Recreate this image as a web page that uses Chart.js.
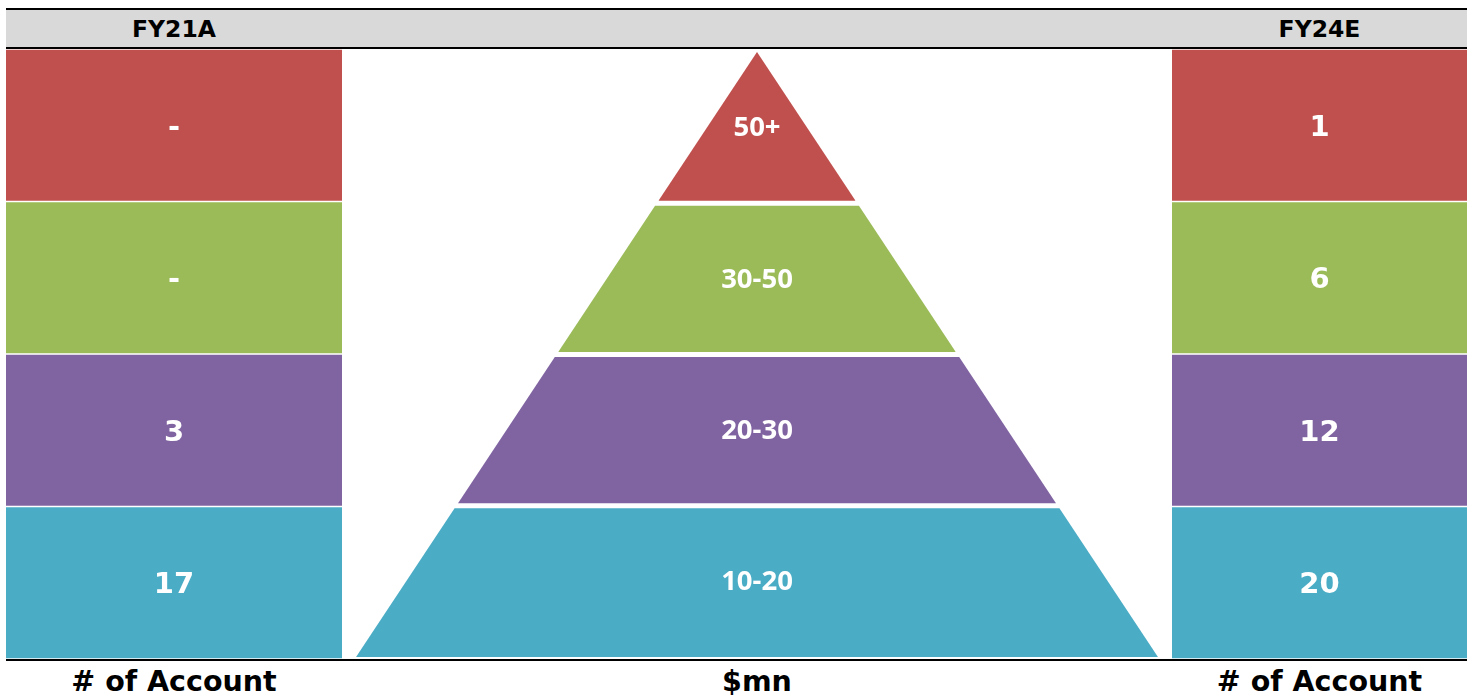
<!DOCTYPE html>
<html><head><meta charset="utf-8">
<script src="https://cdn.jsdelivr.net/npm/chart.js@4"></script>
<style>
html,body{margin:0;padding:0;background:#fff;}
#wrap{position:relative;width:1473px;height:696px;overflow:hidden;font-family:"DejaVu Sans",Verdana,sans-serif;font-weight:bold;color:#000;}
.rule{position:absolute;left:6px;width:1461px;height:2px;background:#000;}
#band{position:absolute;left:6px;top:10px;width:1461px;height:37px;background:#D9D9D9;}
.hdr{position:absolute;top:10px;height:37px;line-height:38px;font-size:23.5px;text-align:center;}
.ftr{position:absolute;top:664px;height:36px;line-height:36px;font-size:28.5px;text-align:center;white-space:nowrap;}
canvas{position:absolute;top:49px;}
</style></head>
<body>
<div id="wrap">
  <div class="rule" style="top:8px"></div>
  <div id="band"></div>
  <div class="rule" style="top:47px"></div>
  <div class="hdr" id="h0" style="left:6px;width:336px"></div>
  <div class="hdr" id="h1" style="left:1172px;width:295px"></div>
  <canvas id="left" width="336" height="610" style="left:6px"></canvas>
  <canvas id="mid" width="830" height="610" style="left:342px"></canvas>
  <canvas id="right" width="295" height="610" style="left:1172px"></canvas>
  <div class="rule" style="top:659px"></div>
  <div class="ftr" id="f0" style="left:6px;width:336px"></div>
  <div class="ftr" id="f1" style="left:342px;width:830px"></div>
  <div class="ftr" id="f2" style="left:1172px;width:295px"></div>
</div>
<script>
// ---- data ----
const tiers = ['50+', '30-50', '20-30', '10-20'];       // top to bottom, $mn
const fy21Accounts = ['-', '-', 3, 17];
const fy24Accounts = [1, 6, 12, 20];
const tierColors = ['#C0504D', '#9BBB59', '#8064A2', '#4BACC6'];
const headers = ['FY21A', 'FY24E'];
const footers = ['# of Account', '$mn', '# of Account'];

document.getElementById('h0').textContent = headers[0];
document.getElementById('h1').textContent = headers[1];
document.getElementById('f0').textContent = footers[0];
document.getElementById('f1').textContent = footers[1];
document.getElementById('f2').textContent = footers[2];

const n = tiers.length;

// label plugin for the side blocks
function blockLabels(values) {
  return {
    id: 'blockLabels',
    afterDatasetsDraw(chart) {
      const ctx = chart.ctx;
      ctx.save();
      ctx.fillStyle = '#fff';
      ctx.font = 'bold 29px "DejaVu Sans", Verdana, sans-serif';
      ctx.textAlign = 'center';
      ctx.textBaseline = 'middle';
      chart.data.datasets.forEach((ds, i) => {
        const el = chart.getDatasetMeta(i).data[0];
        const c = el.getCenterPoint();
        ctx.fillText(String(values[i]), c.x, c.y + 3);
      });
      ctx.restore();
    }
  };
}

function blockChart(id, values) {
  return new Chart(document.getElementById(id), {
    type: 'bar',
    data: {
      labels: [''],
      datasets: tiers.map((t, i) => ({
        label: t,
        data: [1],
        backgroundColor: tierColors[i],
        borderColor: '#fff',
        borderWidth: {top: 1, bottom: 1, left: 0, right: 0},
        borderSkipped: false,
        barPercentage: 1,
        categoryPercentage: 1
      }))
    },
    options: {
      responsive: false,
      animation: false,
      devicePixelRatio: 1,
      layout: {padding: 0},
      plugins: {legend: {display: false}, tooltip: {enabled: false}},
      scales: {
        x: {display: false, stacked: true},
        y: {display: false, stacked: true, reverse: true, min: 0, max: n}
      }
    },
    plugins: [blockLabels(values)]
  });
}

blockChart('left', fy21Accounts);
blockChart('right', fy24Accounts);

// ---- pyramid ----
const gap = 0.017;
const halfWidth = lvl => 1 - lvl / n;
const pyramidSets = tiers.map((t, i) => {
  const k = n - 1 - i;
  const b = k === 0 ? 0 : k + gap;
  const top = k === n - 1 ? n : k + 1 - gap;
  return {
    label: t,
    data: [
      {x: -halfWidth(b), y: b},
      {x: -halfWidth(top), y: top},
      {x: halfWidth(top), y: top},
      {x: halfWidth(b), y: b}
    ],
    backgroundColor: tierColors[i],
    borderColor: 'rgba(0,0,0,0)',
    borderWidth: 0,
    pointRadius: 0,
    tension: 0,
    fill: {value: b}
  };
});

const pyramidLabels = {
  id: 'pyramidLabels',
  afterDatasetsDraw(chart) {
    const ctx = chart.ctx;
    const xs = chart.scales.x, ys = chart.scales.y;
    ctx.save();
    ctx.fillStyle = '#fff';
    ctx.font = 'bold 27.5px "Open Sans", sans-serif';
    ctx.textAlign = 'center';
    ctx.textBaseline = 'middle';
    tiers.forEach((t, i) => {
      const k = n - 1 - i;
      ctx.fillText(t, xs.getPixelForValue(0), ys.getPixelForValue(k + 0.5) + 1);
    });
    ctx.restore();
  }
};

new Chart(document.getElementById('mid'), {
  type: 'line',
  data: {datasets: pyramidSets},
  options: {
    responsive: false,
    animation: false,
    devicePixelRatio: 1,
    layout: {padding: 0},
    plugins: {legend: {display: false}, tooltip: {enabled: false}},
    scales: {
      x: {type: 'linear', display: false, min: -1.035, max: 1.035},
      y: {type: 'linear', display: false, min: -0.0132, max: 4.0198}
    }
  },
  plugins: [pyramidLabels]
});
</script>
</body></html>
